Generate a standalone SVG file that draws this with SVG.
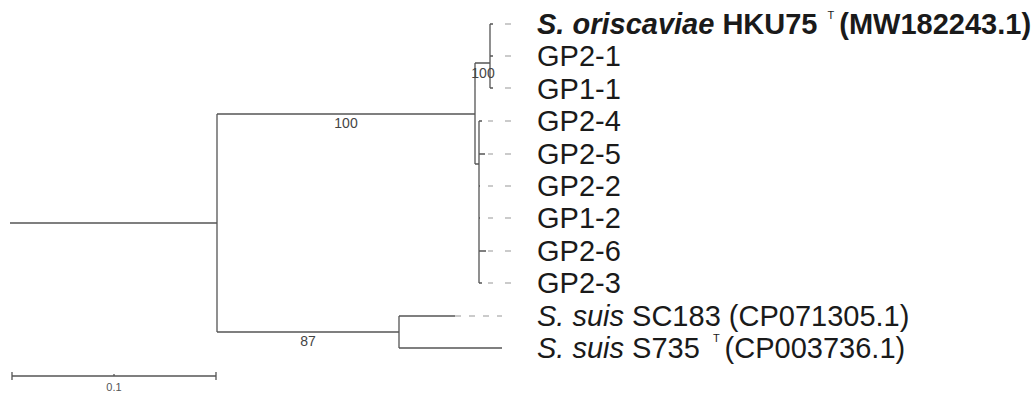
<svg xmlns="http://www.w3.org/2000/svg" width="1031" height="394" viewBox="0 0 1031 394">
<style>
.br{stroke:#555;stroke-width:1.3;fill:none}
.ld{stroke:#bbb;stroke-width:1.3;fill:none}
.lb{font-family:"Liberation Sans",Arial,sans-serif;font-size:29px;fill:#1a1a1a}
.bs{font-family:"Liberation Sans",Arial,sans-serif;font-size:14px;fill:#444;text-anchor:middle}
.sc{font-family:"Liberation Sans",Arial,sans-serif;font-size:11px;fill:#555;text-anchor:middle}
.sup{font-size:11px;font-weight:normal;font-style:normal}
</style>
<rect width="1031" height="394" fill="#fff"/>
<g id="connectors">
<path class="br" d="M10 223H217M217 114V332M217 114H475M217 332H399"/>
<path class="br" d="M475 63V164M475 63H490M490 24V88M490 24H493M490 56H493M490 88H493"/>
<path class="br" d="M475 164H479M479 121V283M479 121H482M479 154H485M479 186H480M479 218H480M479 251H486M479 283H482"/>
<path class="br" d="M399 316V348M399 316H455M399 348H502"/>
<path class="ld" d="M505 24H511M505 56H511M505 88H511"/>
<path class="ld" d="M488 121H493M505 121H511M488 154H493M505 154H511M488 186H493M505 186H511M488 218H493M505 218H511M488 251H493M505 251H511M488 283H493M505 283H511"/>
<path class="ld" d="M455 316H502" stroke-dasharray="6 8"/>
</g>
<g id="bootstrap">
<text class="bs" x="346" y="128">100</text>
<text class="bs" x="483" y="78">100</text>
<text class="bs" x="308" y="346">87</text>
</g>
<g id="n-oriscaviae"><text class="lb" x="537" y="33.5" font-weight="bold"><tspan font-style="italic">S. oriscaviae</tspan> HKU75 <tspan class="sup" dx="2" dy="-15">T</tspan><tspan dx="5" dy="15">(MW182243.1)</tspan></text></g>
<g id="n-gp2-1"><text class="lb" x="537" y="66">GP2-1</text></g>
<g id="n-gp1-1"><text class="lb" x="537" y="98.5">GP1-1</text></g>
<g id="n-gp2-4"><text class="lb" x="537" y="131">GP2-4</text></g>
<g id="n-gp2-5"><text class="lb" x="537" y="163.5">GP2-5</text></g>
<g id="n-gp2-2"><text class="lb" x="537" y="196">GP2-2</text></g>
<g id="n-gp1-2"><text class="lb" x="537" y="228">GP1-2</text></g>
<g id="n-gp2-6"><text class="lb" x="537" y="260.5">GP2-6</text></g>
<g id="n-gp2-3"><text class="lb" x="537" y="293">GP2-3</text></g>
<g id="n-sc183"><text class="lb" x="537" y="325.5"><tspan font-style="italic">S. suis</tspan> SC183 (CP071305.1)</text></g>
<g id="n-s735"><text class="lb" x="537" y="358"><tspan font-style="italic">S. suis</tspan> S735 <tspan class="sup" dx="5" dy="-16">T</tspan><tspan dx="5" dy="16">(CP003736.1)</tspan></text></g>
<g id="scalebar">
<path class="br" d="M12 376H216M12 372V380M216 372V380M114 374V376"/>
<text class="sc" x="114" y="391">0.1</text>
</g>
</svg>
